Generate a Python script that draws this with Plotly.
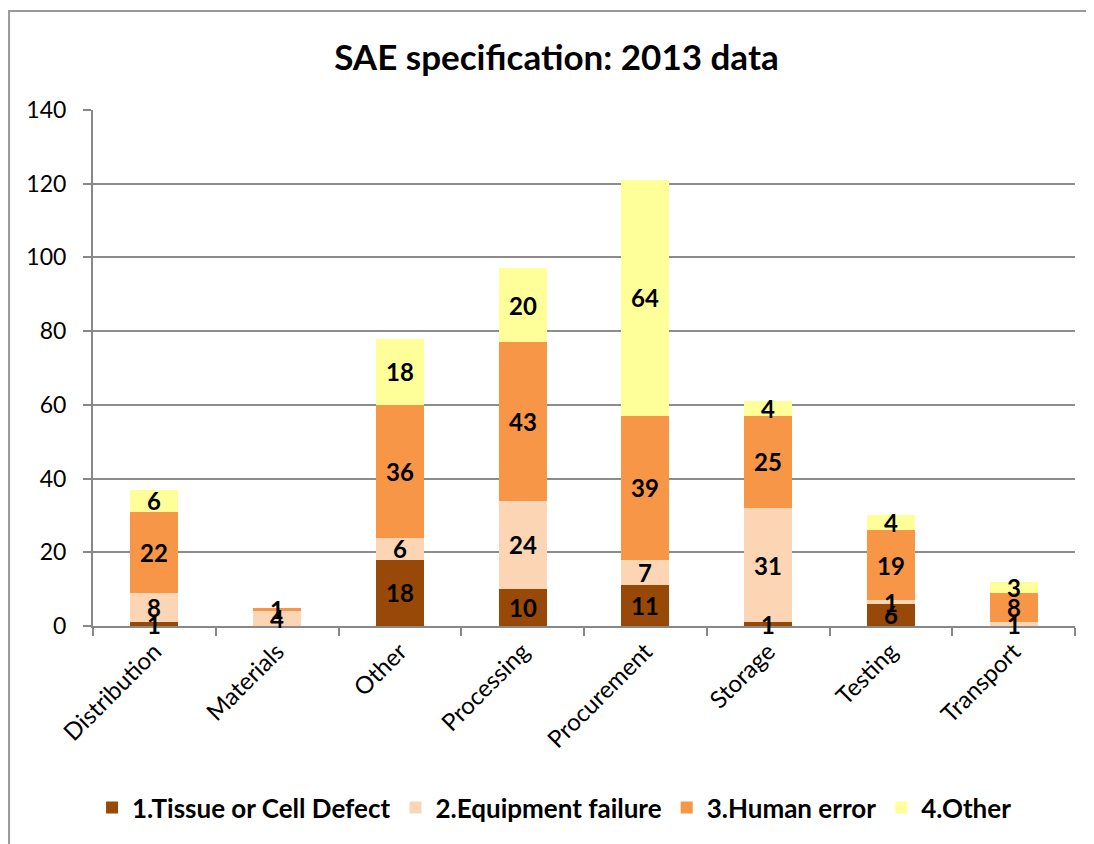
import plotly.graph_objects as go

categories = ["Distribution", "Materials", "Other", "Processing", "Procurement", "Storage", "Testing", "Transport"]
series_names = ["1.Tissue or Cell Defect", "2.Equipment failure", "3.Human error", "4.Other"]
tissue = [1, 0, 18, 10, 11, 1, 6, 0]
equipment = [8, 4, 6, 24, 7, 31, 1, 1]
human = [22, 1, 36, 43, 39, 25, 19, 8]
other = [6, 0, 18, 20, 64, 4, 4, 3]
colors = ["#984807", "#FCD5B5", "#F79646", "#FFFF99"]
y_ticks = [0, 20, 40, 60, 80, 100, 120, 140]

series = [tissue, equipment, human, other]
FONT = "Lato, Carlito, Calibri, sans-serif"

fig = go.Figure()
for name, vals, col in zip(series_names, series, colors):
    fig.add_trace(go.Bar(x=categories, y=vals, name=name, marker=dict(color=col, line=dict(width=0))))

annotations = []
base = [0] * len(categories)
for vals in series:
    for i, v in enumerate(vals):
        if v > 0:
            annotations.append(dict(x=categories[i], y=base[i] + v / 2, text="<b>%d</b>" % v, showarrow=False,
                                    font=dict(family=FONT, size=24, color="black"),
                                    xref="x", yref="y"))
        base[i] += v

fig.update_layout(
    barmode="stack",
    width=1086, height=836,
    margin=dict(l=85, r=19, t=102, b=218),
    paper_bgcolor="white", plot_bgcolor="white",
    bargap=0.61,
    title=dict(text="<b>SAE specification: 2013 data</b>", x=0.505, xanchor="center", y=0.94, yanchor="middle",
               font=dict(family=FONT, size=35, color="black")),
    legend=dict(orientation="h", x=0.47, xanchor="center", y=-0.352, yanchor="middle",
                font=dict(family=FONT, size=26, color="black", weight="bold"), itemsizing="constant",
                traceorder="normal", tracegroupgap=0),
    annotations=annotations,
    shapes=[dict(type="rect", xref="paper", yref="paper", x0=-0.0855, x1=1.03, y0=-0.45, y1=1.1919,
                 line=dict(color="#999999", width=2), layer="below")],
    showlegend=True,
)
fig.update_xaxes(type="category", showline=True, linecolor="#888888", linewidth=2,
                 ticks="outside", tickson="boundaries", ticklen=8, tickcolor="#888888", tickwidth=2,
                 tickangle=-45, tickfont=dict(family=FONT, size=24, color="black"), showgrid=False)
fig.update_yaxes(range=[0, 140], tickvals=y_ticks, showline=True, linecolor="#888888", linewidth=2,
                 ticks="outside", ticklen=8, tickcolor="#888888", tickwidth=2, ticklabelstandoff=12,
                 gridcolor="#8c8c8c", gridwidth=1.5, zeroline=False,
                 tickfont=dict(family=FONT, size=23, color="black"))

fig.write_html("out.html")
